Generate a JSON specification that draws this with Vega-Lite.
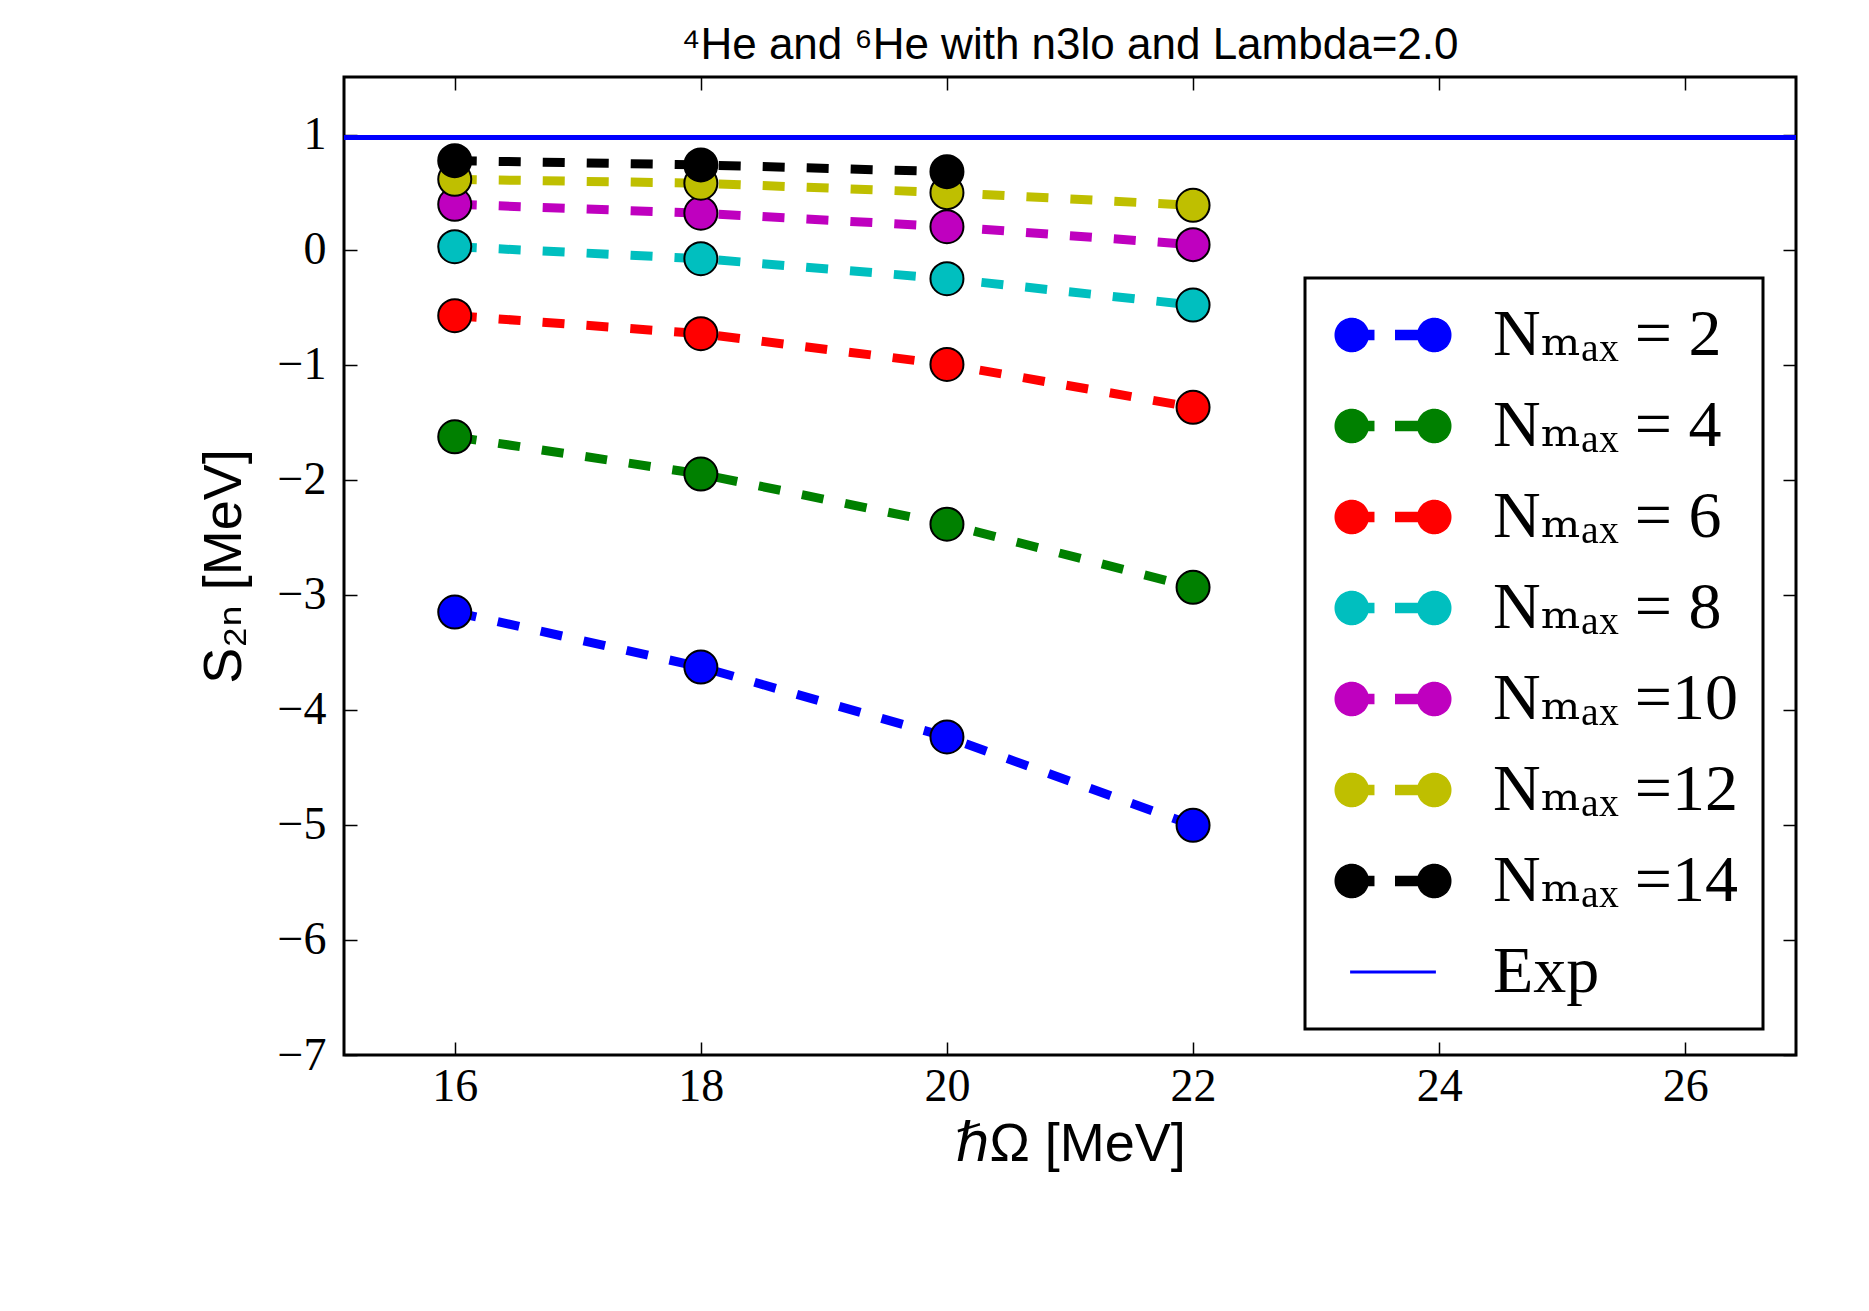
{
  "$schema": "https://vega.github.io/schema/vega-lite/v6.json",
  "width": 1452,
  "height": 978,
  "autosize": {"type": "none"},
  "padding": {"left": 344, "top": 77, "right": 73, "bottom": 256},
  "background": "white",
  "title": {
    "text": "⁴He and ⁶He with n3lo and Lambda=2.0",
    "font": "Liberation Sans, DejaVu Sans",
    "fontSize": 44,
    "fontWeight": "normal",
    "color": "black",
    "anchor": "middle",
    "baseline": "alphabetic",
    "offset": 17,
    "dy": 44
  },
  "data": {
    "values": [
      {"hw": 16, "s2n": -3.150, "series": "2"},
      {"hw": 18, "s2n": -3.628, "series": "2"},
      {"hw": 20, "s2n": -4.236, "series": "2"},
      {"hw": 22, "s2n": -5.004, "series": "2"},
      {"hw": 16, "s2n": -1.627, "series": "4"},
      {"hw": 18, "s2n": -1.951, "series": "4"},
      {"hw": 20, "s2n": -2.387, "series": "4"},
      {"hw": 22, "s2n": -2.935, "series": "4"},
      {"hw": 16, "s2n": -0.575, "series": "6"},
      {"hw": 18, "s2n": -0.731, "series": "6"},
      {"hw": 20, "s2n": -0.998, "series": "6"},
      {"hw": 22, "s2n": -1.371, "series": "6"},
      {"hw": 16, "s2n": 0.025, "series": "8"},
      {"hw": 18, "s2n": -0.079, "series": "8"},
      {"hw": 20, "s2n": -0.253, "series": "8"},
      {"hw": 22, "s2n": -0.482, "series": "8"},
      {"hw": 16, "s2n": 0.394, "series": "10"},
      {"hw": 18, "s2n": 0.316, "series": "10"},
      {"hw": 20, "s2n": 0.199, "series": "10"},
      {"hw": 22, "s2n": 0.043, "series": "10"},
      {"hw": 16, "s2n": 0.611, "series": "12"},
      {"hw": 18, "s2n": 0.577, "series": "12"},
      {"hw": 20, "s2n": 0.495, "series": "12"},
      {"hw": 22, "s2n": 0.385, "series": "12"},
      {"hw": 16, "s2n": 0.773, "series": "14"},
      {"hw": 18, "s2n": 0.736, "series": "14"},
      {"hw": 20, "s2n": 0.677, "series": "14"}
    ]
  },
  "config": {
    "view": {"stroke": "black", "strokeWidth": 3},
    "axis": {
      "domain": false,
      "grid": false,
      "tickColor": "black",
      "tickWidth": 1.5,
      "tickSize": -13,
      "labelColor": "black",
      "labelFont": "Liberation Serif, DejaVu Serif",
      "labelFontSize": 46,
      "titleFont": "Liberation Sans, DejaVu Sans",
      "titleFontSize": 54,
      "titleFontWeight": "normal",
      "titleColor": "black",
      "labelFlush": false,
      "labelOverlap": false
    }
  },
  "layer": [
    {
      "mark": {"type": "rule", "strokeWidth": 3.5},
      "encoding": {
        "y": {"datum": 0.975, "type": "quantitative", "axis": null},
        "color": {"datum": "Exp", "type": "nominal"}
      }
    },
    {
      "mark": {"type": "line", "strokeWidth": 9, "strokeDash": [22, 22], "strokeCap": "butt"},
      "encoding": {
        "x": {
          "field": "hw",
          "type": "quantitative",
          "scale": {"domain": [15.1, 26.9], "nice": false, "zero": false},
          "axis": {
            "orient": "bottom",
            "values": [16, 18, 20, 22, 24, 26],
            "labelPadding": 22,
            "title": "ℏΩ [MeV]",
            "titlePadding": 8
          }
        },
        "y": {
          "field": "s2n",
          "type": "quantitative",
          "scale": {"domain": [-7, 1.5], "nice": false, "zero": false},
          "axis": {
            "orient": "left",
            "values": [-7, -6, -5, -4, -3, -2, -1, 0, 1],
            "format": "d",
            "labelPadding": 31,
            "title": "S₂ₙ [MeV]",
            "titlePadding": 26
          }
        },
        "color": {
          "field": "series",
          "type": "nominal",
          "scale": {
            "domain": ["2", "4", "6", "8", "10", "12", "14", "Exp"],
            "range": ["#0000ff", "#008000", "#ff0000", "#00bfbf", "#bf00bf", "#bfbf00", "#000000", "#0000ff"]
          },
          "legend": {
            "title": null,
            "orient": "none",
            "legendX": 961,
            "legendY": 201,
            "direction": "vertical",
            "columns": 1,
            "padding": 24,
            "symbolSize": 1089,
            "symbolStrokeWidth": 1.5,
            "symbolOffset": 31,
            "labelOffset": 67,
            "rowPadding": 25,
            "labelFont": "Liberation Serif, DejaVu Serif",
            "labelFontSize": 66,
            "labelColor": "black",
            "labelLimit": 0,
            "labelExpr": "datum.value === 'Exp' ? 'Exp' : (length(datum.value) > 1 ? 'Nₘₐₓ =' + datum.value : 'Nₘₐₓ = ' + datum.value)",
            "strokeColor": "black",
            "fillColor": "white",
            "encode": {
              "legend": {
                "update": {
                  "strokeWidth": {"value": 3}
                }
              },
              "symbols": {
                "update": {
                  "shape": {"signal": "datum.value === 'Exp' ? 'M-2.6,0H2.6' : 'M-3.5,0A1,1,0,1,1,-1.5,0A1,1,0,1,1,-3.5,0ZM1.5,0A1,1,0,1,1,3.5,0A1,1,0,1,1,1.5,0ZM-1.54,-0.27H-1.167V0.27H-1.54ZM0.167,-0.27H1.54V0.27H0.167Z'"},
                  "fill": {"signal": "datum.value === 'Exp' ? 'transparent' : scale('color', datum.value)"},
                  "stroke": {"signal": "datum.value === 'Exp' ? scale('color', datum.value) : 'black'"},
                  "strokeWidth": {"signal": "datum.value === 'Exp' ? 3 : 1.5"},
                  "strokeDash": {"signal": "[1, 0]"},
                  "opacity": {"value": 1},
                  "size": {"value": 1089}
                }
              }
            }
          }
        }
      }
    },
    {
      "mark": {"type": "circle", "size": 1089, "opacity": 1, "stroke": "black", "strokeWidth": 2},
      "encoding": {
        "x": {
          "field": "hw",
          "type": "quantitative",
          "axis": {"orient": "top", "values": [16, 18, 20, 22, 24, 26], "labels": false, "title": null}
        },
        "y": {
          "field": "s2n",
          "type": "quantitative",
          "axis": {"orient": "right", "values": [-7, -6, -5, -4, -3, -2, -1, 0, 1], "labels": false, "title": null}
        },
        "color": {"field": "series", "type": "nominal"}
      }
    }
  ],
  "resolve": {"axis": {"x": "independent", "y": "independent"}}
}
